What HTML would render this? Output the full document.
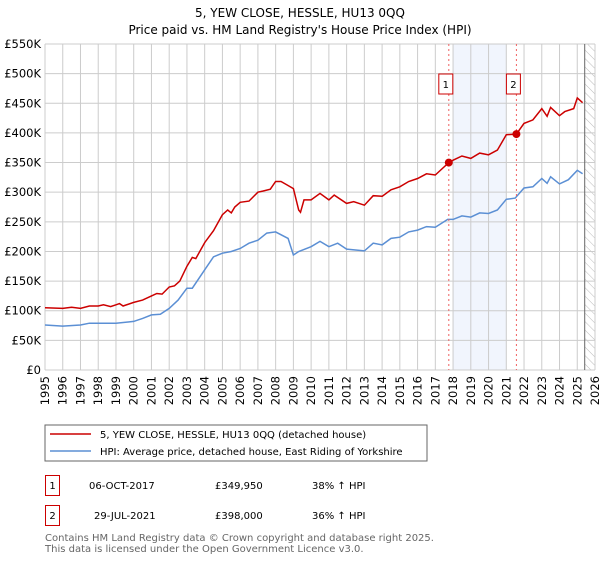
<!DOCTYPE html>
<html><head><meta charset="utf-8"><style>
body{margin:0;background:#fff;width:600px;height:560px;overflow:hidden;font-family:"DejaVu Sans","Liberation Sans",sans-serif;}
svg text{font-family:"DejaVu Sans","Liberation Sans",sans-serif;}
</style></head><body>
<svg id="c" width="600" height="560" xmlns="http://www.w3.org/2000/svg">
<defs><pattern id="hatch" width="6" height="6" patternUnits="userSpaceOnUse" patternTransform="rotate(-45)"><line x1="0" y1="0" x2="0" y2="6" stroke="#bbb" stroke-width="1"/></pattern></defs>
<text x="300" y="17" text-anchor="middle" font-size="12">5, YEW CLOSE, HESSLE, HU13 0QQ</text>
<text x="300" y="34" text-anchor="middle" font-size="12">Price paid vs. HM Land Registry's House Price Index (HPI)</text>
<g id="plot"></g>
<rect x="45" y="425" width="382" height="36" fill="#fff" stroke="#666"/>
<line x1="50" y1="434" x2="91" y2="434" stroke="#cc0000" stroke-width="1.5"/>
<text x="100" y="438" font-size="10">5, YEW CLOSE, HESSLE, HU13 0QQ (detached house)</text>
<line x1="50" y1="451" x2="91" y2="451" stroke="#5b8fd4" stroke-width="1.5"/>
<text x="100" y="455" font-size="10">HPI: Average price, detached house, East Riding of Yorkshire</text>
<g font-size="10">
<rect x="45.5" y="475.5" width="14" height="20" fill="none" stroke="#cc0000"/>
<text x="52.5" y="489" text-anchor="middle">1</text>
<text x="89" y="489">06-OCT-2017</text>
<text x="215" y="489">£349,950</text>
<text x="312" y="489">38% ↑ HPI</text>
<rect x="45.5" y="505.5" width="14" height="20" fill="none" stroke="#cc0000"/>
<text x="52.5" y="519" text-anchor="middle">2</text>
<text x="94" y="519">29-JUL-2021</text>
<text x="215" y="519">£398,000</text>
<text x="312" y="519">36% ↑ HPI</text>
</g>
<text x="45" y="541" font-size="10" fill="#666">Contains HM Land Registry data © Crown copyright and database right 2025.</text>
<text x="45" y="552" font-size="10" fill="#666">This data is licensed under the Open Government Licence v3.0.</text>
</svg>
<script>
const yTicks=[0,50,100,150,200,250,300,350,400,450,500,550];
const yTickLabels=["£0","£50K","£100K","£150K","£200K","£250K","£300K","£350K","£400K","£450K","£500K","£550K"];
const xYears=[1995,1996,1997,1998,1999,2000,2001,2002,2003,2004,2005,2006,2007,2008,2009,2010,2011,2012,2013,2014,2015,2016,2017,2018,2019,2020,2021,2022,2023,2024,2025,2026];
const redT=[1995,1996,1996.5,1997,1997.5,1998,1998.3,1998.7,1999,1999.2,1999.4,2000,2000.5,2001,2001.3,2001.6,2002,2002.3,2002.6,2003,2003.3,2003.5,2004,2004.5,2005,2005.3,2005.5,2005.7,2006,2006.5,2007,2007.3,2007.7,2008,2008.3,2008.6,2009,2009.3,2009.4,2009.6,2010,2010.5,2011,2011.3,2012,2012.4,2013,2013.5,2014,2014.5,2015,2015.5,2016,2016.5,2017,2017.76,2018,2018.5,2019,2019.5,2020,2020.5,2021,2021.57,2022,2022.5,2023,2023.3,2023.5,2024,2024.3,2024.8,2025,2025.3];
const redV=[105,104,106,104,108,108,110,107,110,112,108,114,118,125,129,128,140,142,150,175,190,188,215,235,262,270,265,275,283,285,300,302,305,318,318,313,306,270,266,287,287,298,287,295,281,284,278,294,293,304,309,318,323,331,329,349.95,354,361,357,366,363,371,397,398,416,422,441,428,443,429,436,441,459,451];
const blueT=[1995,1996,1997,1997.5,1998,1999,2000,2000.5,2001,2001.5,2002,2002.5,2003,2003.3,2004,2004.5,2005,2005.5,2006,2006.5,2007,2007.5,2008,2008.7,2009,2009.3,2010,2010.5,2011,2011.5,2012,2013,2013.5,2014,2014.5,2015,2015.5,2016,2016.5,2017,2017.7,2018,2018.5,2019,2019.5,2020,2020.5,2021,2021.5,2022,2022.5,2023,2023.3,2023.5,2024,2024.5,2025,2025.3];
const blueV=[76,74,76,79,79,79,82,87,93,94,104,118,138,138,169,191,197,200,205,214,219,231,233,222,194,200,208,217,208,214,204,201,214,211,222,224,233,236,242,241,254,254,260,258,265,264,270,288,290,307,309,323,315,326,314,321,337,331];
const saleT=[2017.76,2021.57];
const saleV=[349.95,398];
const saleLabels=["1","2"];
const NS="http://www.w3.org/2000/svg";
const X0=45,X1=595,Y0=370,Y1=44;
const xs=t=>X0+(t-1995)/(2026-1995)*(X1-X0);
const ys=v=>Y0-v/550*(Y0-Y1);
const g=document.getElementById('plot');
function mk(tag,attrs,parent){const e=document.createElementNS(NS,tag);for(const k in attrs)e.setAttribute(k,attrs[k]);(parent||g).appendChild(e);return e;}
let e;
e=mk('rect',{x:xs(2018),y:Y1,width:xs(2021)-xs(2018),height:Y0-Y1,fill:'#eef3fc',opacity:0.8});


e=mk('rect',{x:xs(2025.42),y:Y1,width:X1-xs(2025.42),height:Y0-Y1,fill:'url(#hatch)'});


yTicks.forEach((v,i)=>{
 e=mk('line',{x1:X0,x2:X1,y1:ys(v),y2:ys(v),stroke:'#ccc','stroke-width':1});
 
 
 e=mk('text',{x:X0-4,y:ys(v)+4,'text-anchor':'end','font-size':11.5});
 e.textContent=yTickLabels[i];
 
 
});
xYears.forEach(t=>{
 e=mk('line',{x1:xs(t),x2:xs(t),y1:Y1,y2:Y0,stroke:'#ccc','stroke-width':1});
 
 
 e=mk('text',{x:0,y:0,'text-anchor':'end','font-size':11.5,transform:`translate(${xs(t)+4},${Y0+6}) rotate(-90)`});
 e.textContent=t;
 
 
});
e=mk('line',{x1:xs(2025.42),x2:xs(2025.42),y1:Y1,y2:Y0,stroke:'#666','stroke-width':1});


function path(T,V){return T.map((t,i)=>(i?'L':'M')+xs(t).toFixed(1)+' '+ys(V[i]).toFixed(1)).join(' ');}
e=mk('path',{d:path(blueT,blueV),fill:'none',stroke:'#5b8fd4','stroke-width':1.5});


e=mk('path',{d:path(redT,redV),fill:'none',stroke:'#cc0000','stroke-width':1.5});


saleT.forEach((t,i)=>{
 e=mk('line',{x1:xs(t),x2:xs(t),y1:Y1,y2:Y0,stroke:'#f06060','stroke-width':1,'stroke-dasharray':'2,3'});
 
 
 e=mk('circle',{cx:xs(t),cy:ys(saleV[i]),r:4,fill:'#cc0000'});
 
 
 e=mk('rect',{x:xs(t)-10,y:74,width:14,height:20,fill:'#fff',stroke:'#cc0000'});
 
 
 e=mk('text',{x:xs(t)-3,y:88,'text-anchor':'middle','font-size':10});
 e.textContent=saleLabels[i];
 
 
});
</script>
</body></html>
